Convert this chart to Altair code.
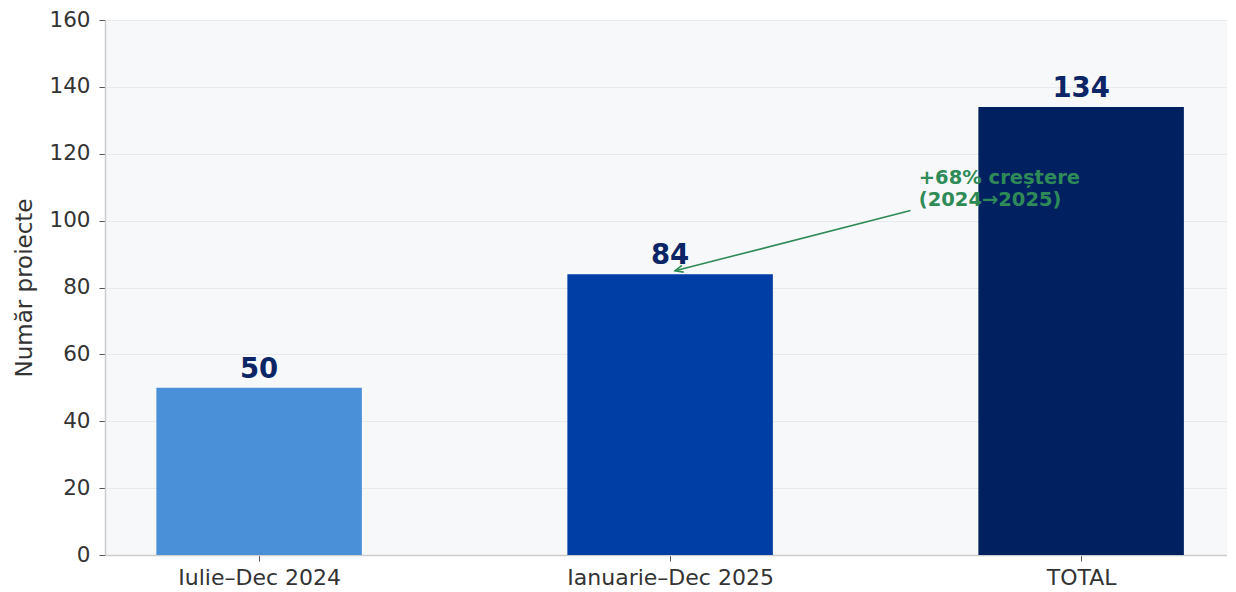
import json
import altair as alt
import pandas as pd

# ---- data ----
categories = ["Iulie–Dec 2024", "Ianuarie–Dec 2025", "TOTAL"]
values = [50, 84, 134]
bar_colors = ["#4A90D9", "#003DA5", "#002060"]
y_ticks = [0, 20, 40, 60, 80, 100, 120, 140, 160]

annot_lines = ["+68% creștere", "(2024→2025)"]
annot_text_pos = [1.605, 111]    # data coords (x index, y value)
arrow_start = [1.585, 103]
arrow_end = [1.012, 85]

FONT = "DejaVu Sans"
NAVY = "#0B2566"
GREEN = "#2E8B57"

PLOT_W = 1122
STEP = 411.0  # px per category (keeps bar geometry of the reference)

idx = list(range(len(categories)))
bars = pd.DataFrame({
    "idx": idx,
    "x0": [i - 0.25 for i in idx],
    "x1": [i + 0.25 for i in idx],
    "value": values,
    "cat": categories,
    "color": bar_colors,
})

label_expr = json.dumps(categories, ensure_ascii=False) + "[datum.value]"

x_min = -0.375
x_scale = alt.Scale(domain=[x_min, x_min + PLOT_W / STEP], nice=False, zero=False)
y_scale = alt.Scale(domain=[0, 160], nice=False)

x_axis = alt.Axis(
    values=idx, labelExpr=label_expr, grid=False, title=None,
    labelFont=FONT, labelFontSize=22, labelColor="#333333", labelLimit=0,
    tickColor="#555555", tickSize=6, labelPadding=6,
    domainColor="#CCCCCC", domainWidth=1.5,
)
y_axis = alt.Axis(
    values=y_ticks, title="Număr proiecte", grid=True,
    gridColor="#E9EAEE", gridWidth=1,
    labelFont=FONT, labelFontSize=21.5, labelColor="#333333",
    tickColor="#555555", tickSize=6, labelPadding=9,
    domainColor="#CCCCCC", domainWidth=1.5,
    titleFont=FONT, titleFontSize=23, titleFontWeight="normal",
    titleColor="#333333", titlePadding=12,
)

base = alt.Chart(bars)

bar_layer = base.mark_rect().encode(
    x=alt.X("x0:Q", scale=x_scale, axis=x_axis),
    x2="x1:Q",
    y=alt.Y("value:Q", scale=y_scale, axis=y_axis),
    y2=alt.datum(0),
    color=alt.Color("color:N", scale=None),
)

text_layer = base.mark_text(
    font=FONT, fontSize=27.5, fontWeight="bold", color=NAVY,
    baseline="alphabetic", dy=-10,
).encode(
    x=alt.X("idx:Q", scale=x_scale),
    y=alt.Y("value:Q", scale=y_scale),
    text="value:Q",
)

arrow_df = pd.DataFrame({
    "x": [arrow_start[0]], "y": [arrow_start[1]],
    "x2": [arrow_end[0]], "y2": [arrow_end[1]],
})
arrow_line = alt.Chart(arrow_df).mark_rule(color=GREEN, strokeWidth=1.6).encode(
    x=alt.X("x:Q", scale=x_scale), y=alt.Y("y:Q", scale=y_scale),
    x2="x2:Q", y2="y2:Q",
)
arrow_head = alt.Chart(arrow_df).mark_point(
    shape="M-1.6,-0.7L0,0L-1.6,0.7", filled=False, color=GREEN,
    strokeWidth=1.6, size=100, angle=165, opacity=1,
).encode(
    x=alt.X("x2:Q", scale=x_scale), y=alt.Y("y2:Q", scale=y_scale),
)

annot_df = pd.DataFrame({"x": [annot_text_pos[0]], "y": [annot_text_pos[1]],
                         "t": [annot_lines]})
annot = alt.Chart(annot_df).mark_text(
    font=FONT, fontSize=19.5, fontWeight="bold", color=GREEN,
    align="left", baseline="alphabetic", lineHeight=22,
).encode(
    x=alt.X("x:Q", scale=x_scale), y=alt.Y("y:Q", scale=y_scale), text="t",
)

chart = alt.layer(bar_layer, text_layer, arrow_line, arrow_head, annot).properties(
    width=PLOT_W, height=535,
    autosize=alt.AutoSizeParams(type="none"),
    padding={"left": 97, "top": 12, "right": 0, "bottom": 35},
    background="white",
).configure_view(fill="#F7F8FA", strokeOpacity=0)

chart.save("out.html", embed_options={"renderer": "svg", "actions": False})
